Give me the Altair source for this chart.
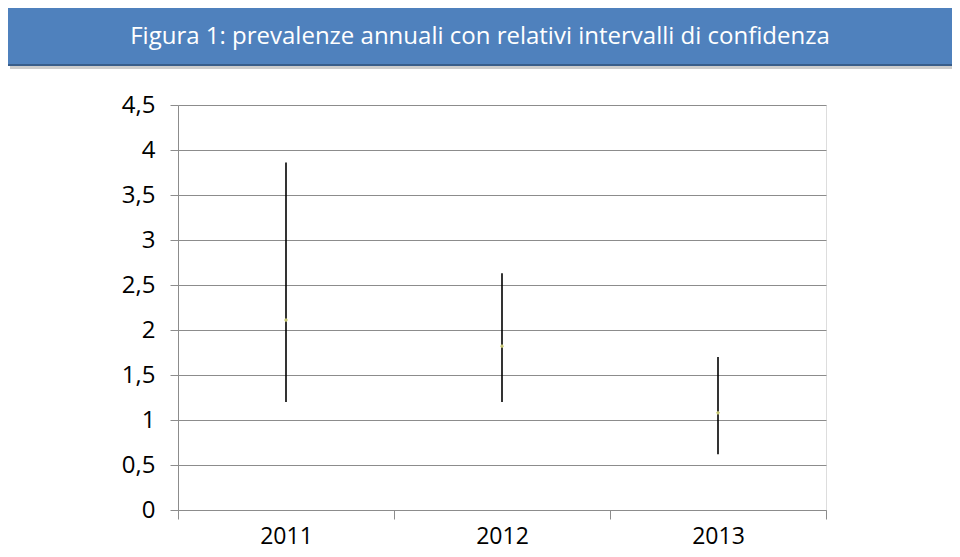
import altair as alt
import pandas as pd

years = ["2011", "2012", "2013"]
prevalence = [2.11, 1.82, 1.08]
ci_low = [1.20, 1.20, 0.62]
ci_high = [3.86, 2.63, 1.70]
y_ticks = [0, 0.5, 1, 1.5, 2, 2.5, 3, 3.5, 4, 4.5]
title_text = "Figura 1: prevalenze annuali con relativi intervalli di confidenza"

df = pd.DataFrame({"anno": years, "prev": prevalence, "low": ci_low, "high": ci_high})

FONT = "Open Sans, sans-serif"

xenc = alt.X("anno:N", scale=alt.Scale(paddingInner=0, paddingOuter=0),
             axis=alt.Axis(title=None, labelAngle=0, tickBand="extent", tickSize=9,
                           labelFontSize=23, labelFont=FONT, labelColor="black",
                           labelPadding=6, domainColor="#8c8c8c", tickColor="#8c8c8c",
                           grid=False))
yscale = alt.Scale(domain=[0, 4.5], nice=False)
yaxis = alt.Axis(title=None, values=y_ticks, format=".1~f", labelExpr="replace(datum.label, '.', ',')",
                 labelFontSize=24, labelFont=FONT, labelColor="black", labelPadding=15,
                 tickSize=8, tickColor="#8c8c8c", domainColor="#8c8c8c",
                 grid=True, gridColor="#8c8c8c", gridWidth=1)

base = alt.Chart(df)

rules = base.mark_rule(color="black", strokeWidth=1.6).encode(
    x=xenc,
    y=alt.Y("low:Q", scale=yscale, axis=yaxis),
    y2="high:Q",
)

points = base.mark_point(shape="diamond", filled=True, size=18, color="#cfcf7a", opacity=0.95).encode(
    x="anno:N",
    y=alt.Y("prev:Q", scale=yscale),
)

box_df = pd.DataFrame({"t": [title_text]})
shadow = alt.Chart(box_df).mark_rect(color="#7f7f7f", opacity=0.4).encode(
    x=alt.value(-168), x2=alt.value(781), y=alt.value(-99), y2=alt.value(-36)
)
box = alt.Chart(box_df).mark_rect(color="#4F81BD", stroke="#385D8A", strokeWidth=2).encode(
    x=alt.value(-172), x2=alt.value(777), y=alt.value(-102), y2=alt.value(-40)
)
title = alt.Chart(box_df).mark_text(color="white", fontSize=24, font=FONT, align="center",
                                    baseline="middle").encode(
    x=alt.value(302), y=alt.value(-68), text="t:N"
)

chart = alt.layer(shadow, box, title, rules, points).properties(
    width=648, height=405,
    autosize=alt.AutoSizeParams(type="none"),
    padding={"left": 170, "top": 97, "right": 126, "bottom": 40},
).configure_view(stroke=None).configure(background="white")

chart.save("out.html", embed_options={"renderer": "svg", "actions": False})
